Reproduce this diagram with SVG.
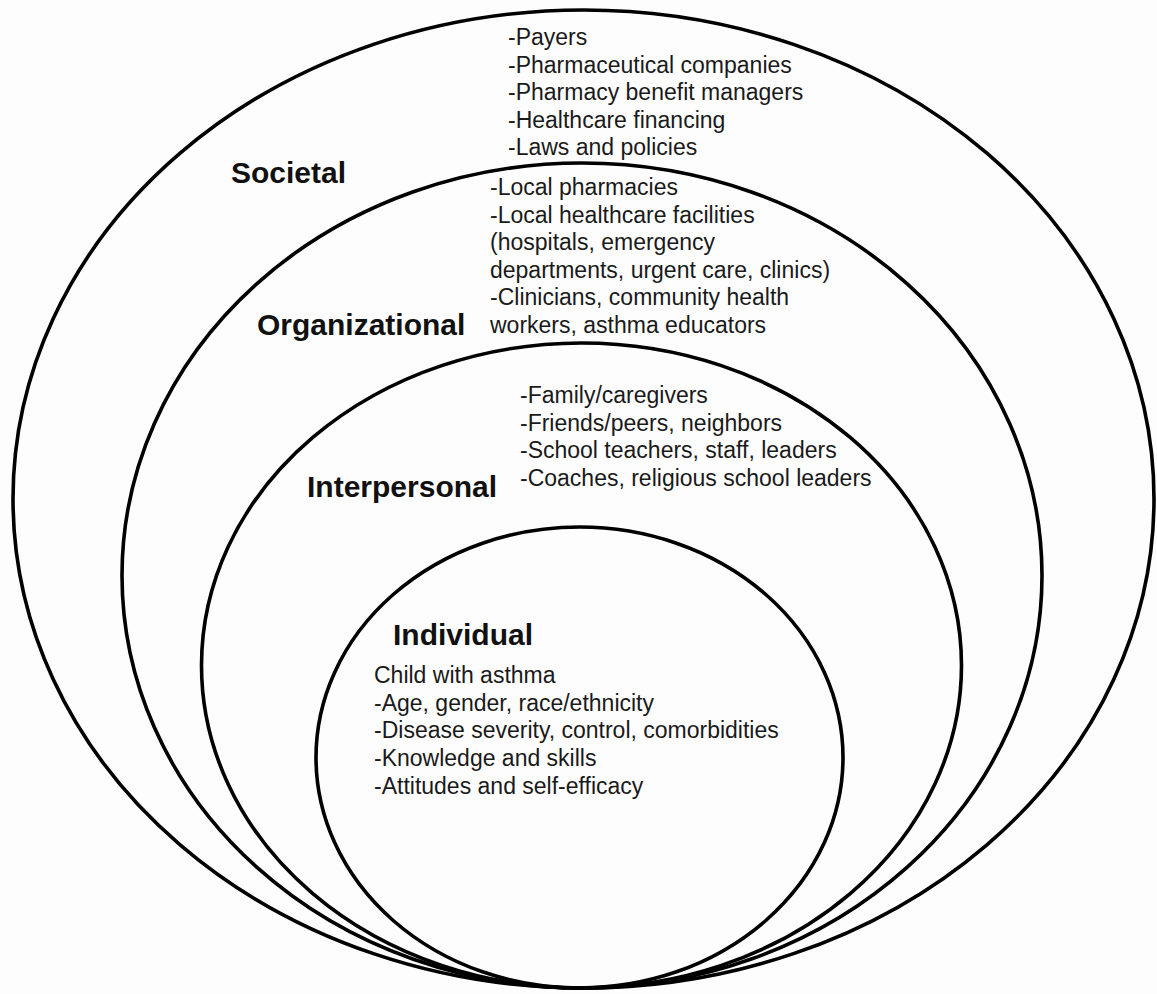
<svg xmlns="http://www.w3.org/2000/svg" width="1157" height="994" viewBox="0 0 1157 994">
  <style>
    .ring { fill: none; stroke: #000; stroke-width: 3.6; }
    .title { font-family: "Liberation Sans", Arial, sans-serif; font-weight: bold; font-size: 30px; fill: #111; }
    .item { font-family: "Liberation Sans", Arial, sans-serif; font-size: 23px; fill: #1a1a1a; }
  </style>
  <rect width="1157" height="994" fill="#fdfdfd"/>

  <!-- Nested levels of the socio-ecological model, all touching at the bottom -->
  <g id="societal">
    <ellipse class="ring" cx="583.5" cy="499" rx="570.5" ry="489"/>
    <text class="title" x="231" y="183">Societal</text>
    <text class="item">
      <tspan x="508" y="45">-Payers</tspan>
      <tspan x="508" y="72.5">-Pharmaceutical companies</tspan>
      <tspan x="508" y="100">-Pharmacy benefit managers</tspan>
      <tspan x="508" y="127.5">-Healthcare financing</tspan>
      <tspan x="508" y="155">-Laws and policies</tspan>
    </text>
  </g>

  <g id="organizational">
    <ellipse class="ring" cx="582" cy="575.5" rx="460" ry="412.5"/>
    <text class="title" x="257" y="335">Organizational</text>
    <text class="item">
      <tspan x="490" y="195">-Local pharmacies</tspan>
      <tspan x="490" y="222.5">-Local healthcare facilities</tspan>
      <tspan x="490" y="250">(hospitals, emergency</tspan>
      <tspan x="490" y="277.5">departments, urgent care, clinics)</tspan>
      <tspan x="490" y="305">-Clinicians, community health</tspan>
      <tspan x="490" y="332.5">workers, asthma educators</tspan>
    </text>
  </g>

  <g id="interpersonal">
    <ellipse class="ring" cx="581.5" cy="665.5" rx="380" ry="322.5"/>
    <text class="title" x="307" y="497">Interpersonal</text>
    <text class="item">
      <tspan x="520" y="403">-Family/caregivers</tspan>
      <tspan x="520" y="430.5">-Friends/peers, neighbors</tspan>
      <tspan x="520" y="458">-School teachers, staff, leaders</tspan>
      <tspan x="520" y="485.5">-Coaches, religious school leaders</tspan>
    </text>
  </g>

  <g id="individual">
    <ellipse class="ring" cx="579.5" cy="757.5" rx="263.5" ry="230.5"/>
    <text class="title" x="393" y="645">Individual</text>
    <text class="item">
      <tspan x="374" y="683">Child with asthma</tspan>
      <tspan x="374" y="710.5">-Age, gender, race/ethnicity</tspan>
      <tspan x="374" y="738">-Disease severity, control, comorbidities</tspan>
      <tspan x="374" y="766">-Knowledge and skills</tspan>
      <tspan x="374" y="794">-Attitudes and self-efficacy</tspan>
    </text>
  </g>

  <g id="connectors"/>
</svg>
